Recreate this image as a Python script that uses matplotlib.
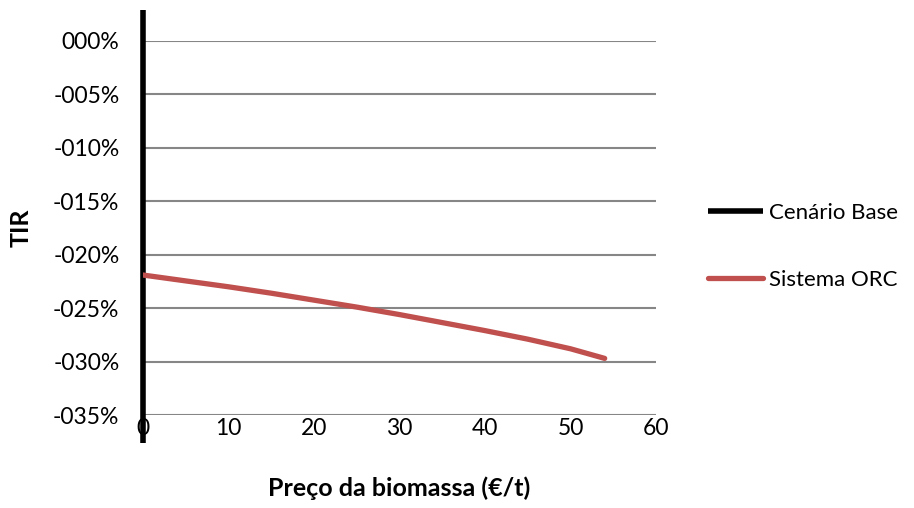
import matplotlib
matplotlib.use("Agg")
import matplotlib.pyplot as plt
from matplotlib.ticker import FuncFormatter

plt.rcParams['font.family'] = ['Lato', 'DejaVu Sans']

# Biomass price (€/t) and IRR (%) for the ORC system
preco = [0, 5, 10, 15, 20, 25, 30, 35, 40, 45, 50, 54]
tir_orc = [-21.9, -22.45, -23.0, -23.6, -24.25, -24.9, -25.6, -26.35,
           -27.1, -27.9, -28.8, -29.7]

# Base scenario drawn as a vertical reference at price 0
preco_base = [0, 0]
tir_base = [2.9, -37.6]

y_ticks = [0, -5, -10, -15, -20, -25, -30, -35]
x_ticks = [0, 10, 20, 30, 40, 50, 60]

fig = plt.figure(figsize=(9.14, 5.08), dpi=100)
ax = fig.add_axes([0.1565, 0.183, 0.5612, 0.7363])

grid_c = '#868686'
for yv in y_ticks:
    ax.axhline(yv, color=grid_c, lw=1.5, zorder=1)

ax.plot(preco_base, tir_base, color='black', lw=4.0, zorder=3,
        clip_on=False, solid_capstyle='butt', label='Cenário Base')
ax.plot(preco, tir_orc, color='#C0504D', lw=3.8, zorder=4,
        solid_capstyle='round', label='Sistema ORC')

ax.set_xlim(0, 60)
ax.set_ylim(-35, 0)
ax.set_xticks(x_ticks)
ax.set_yticks(y_ticks)

def pct(v, pos):
    v = int(round(v))
    return ('-' if v < 0 else '') + f"{abs(v):03d}%"

ax.yaxis.set_major_formatter(FuncFormatter(pct))
ax.tick_params(axis='both', length=0, labelsize=16.5, colors='black')
ax.tick_params(axis='y', pad=17)
ax.tick_params(axis='x', pad=2)

for s in ['top', 'right', 'bottom']:
    ax.spines[s].set_visible(False)
ax.spines['left'].set_color(grid_c)
ax.spines['left'].set_linewidth(1.5)

ax.set_xlabel('Preço da biomassa (€/t)', fontsize=18, fontweight='bold')
ax.xaxis.set_label_coords(0.5, -0.165)
ax.set_ylabel('TIR', fontsize=18, fontweight='bold')
ax.yaxis.set_label_coords(-0.215, 0.5)

leg = fig.legend(loc='center left', bbox_to_anchor=(0.775, 0.515), frameon=False,
                 fontsize=16, handlelength=2.45, handletextpad=0.3,
                 labelspacing=2.1, borderpad=0, borderaxespad=0)

fig.savefig('out.png', dpi=100)
